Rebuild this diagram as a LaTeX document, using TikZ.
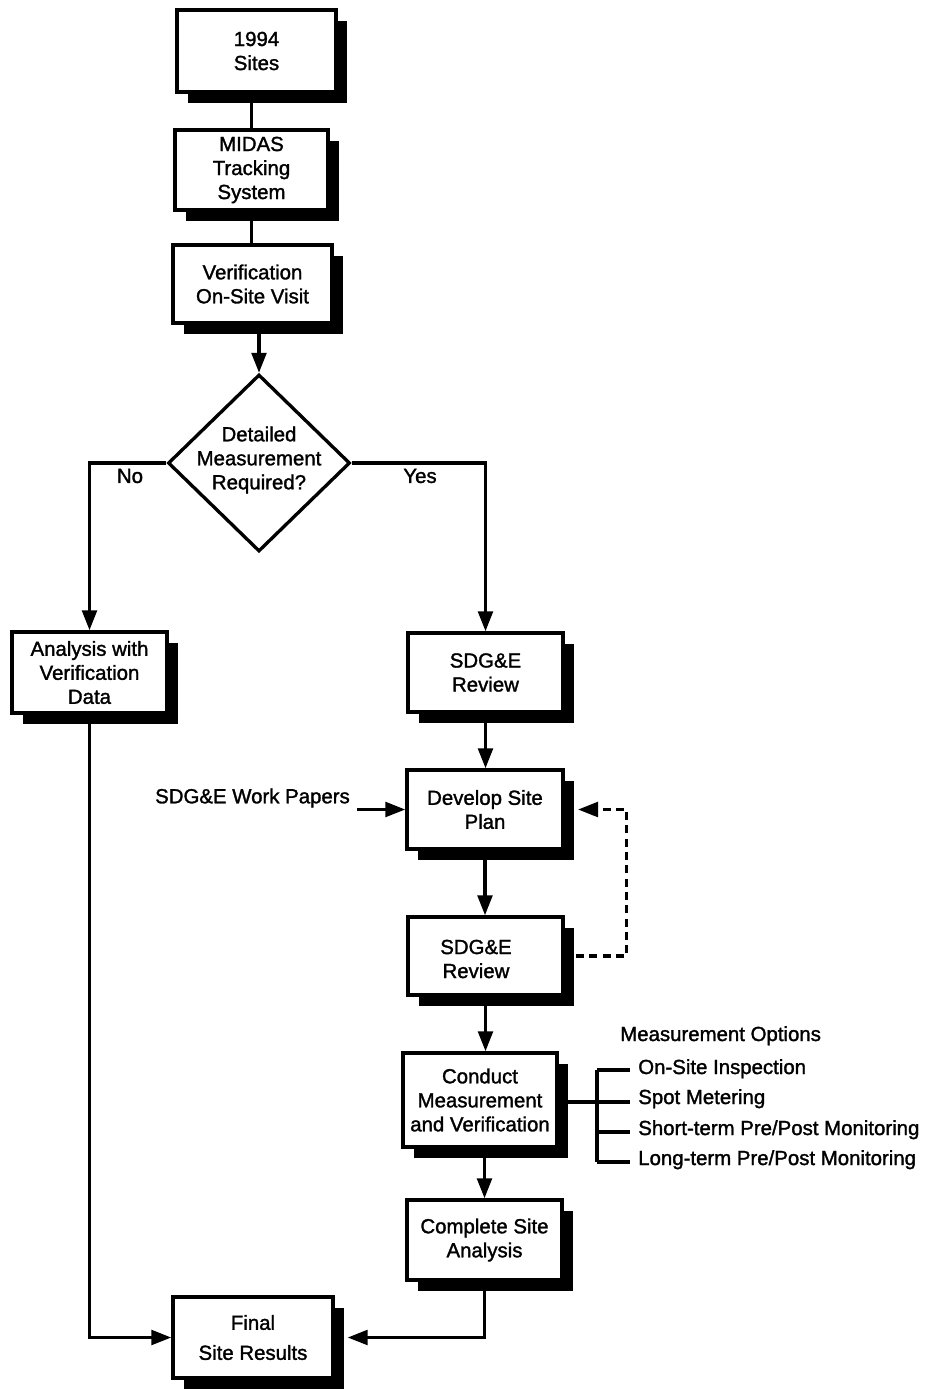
\documentclass[tikz,border=0pt]{standalone}
\usepackage{fontspec}
\setmainfont{Liberation Sans}[FakeBold=1.5]
\usetikzlibrary{arrows.meta,shapes.geometric,shadows}
\begin{document}
\begin{tikzpicture}[x=0.75pt,y=-0.75pt,
  every node/.style={font=\fontsize{15.3}{18}\selectfont},
  bx/.style={draw, line width=2.5pt, fill=white, inner sep=0pt, align=center,
    general shadow={fill=black, shadow xshift=8.5pt, shadow yshift=-8.5pt}},
  ln/.style={line width=2.5pt},
  tip/.style={-{Triangle[length=15pt,width=11pt]}},
  ar/.style={ln, tip},
  txt/.style={inner sep=0pt, align=center}]
\useasboundingbox (0,0) rectangle (928,1389);

% boxes
\node[bx, minimum width=119.25pt, minimum height=61.5pt] (sites) at (256.5,51) {1994\\Sites};
\node[bx, minimum width=114.75pt, minimum height=60pt] (midas) at (251.5,170) {MIDAS\\Tracking\\System};
\node[bx, minimum width=119.25pt, minimum height=58.5pt] (verif) at (252.5,284) {Verification\\On-Site Visit};
\node[draw, diamond, line width=2.5pt, minimum width=136.5pt, minimum height=132.75pt, inner sep=0pt] (dia) at (259,463) {};
\node[txt] (diat) at (259,460) {Detailed\\Measurement\\Required?};
\node[bx, minimum width=116.25pt, minimum height=60.75pt] (ana) at (89.5,672.5) {Analysis with\\Verification\\Data};
\node[bx, minimum width=116.25pt, minimum height=59.25pt] (rev1) at (485.5,672.5) {SDG\&E\\Review};
\node[bx, minimum width=117pt, minimum height=59.25pt] (plan) at (485,809.5) {Develop Site\\Plan};
\node[bx, minimum width=116.25pt, minimum height=58.5pt] (rev2) at (485.5,956) {};
\node[txt] (rev2t) at (476,959) {SDG\&E\\Review};
\node[bx, minimum width=115.5pt, minimum height=70.5pt] (cond) at (480,1100) {Conduct\\Measurement\\and Verification};
\node[bx, minimum width=116.25pt, minimum height=60pt] (comp) at (484.5,1240) {Complete Site\\Analysis};
\node[bx, minimum width=120pt, minimum height=60.75pt] (final) at (253,1337.5) {Final\\[4.5pt]Site Results};

% labels
\node[txt] (no) at (130,476) {No};
\node[txt] (yes) at (420,476) {Yes};
\node[txt] (wp) at (252.5,798) {SDG\&E Work Papers};
\node[txt, anchor=base west] (mo) at (620,1041) {Measurement Options};
\node[txt, anchor=base west] (o1) at (638,1074) {On-Site Inspection};
\node[txt, anchor=base west] (o2) at (638,1104) {Spot Metering};
\node[txt, anchor=base west] (o3) at (638,1135) {Short-term Pre/Post Monitoring};
\node[txt, anchor=base west] (o4) at (638,1165) {Long-term Pre/Post Monitoring};

% connectors
\draw[ln] (midas.north |- sites.south) -- (midas.north);
\draw[ln] (midas.south) -- (midas.south |- verif.north);
\draw[ar] (dia.north |- verif.south) -- (dia.north);
\draw[ar] (dia.west) -| (ana.north);
\draw[ar] (dia.east) -| (rev1.north);
\draw[ar] (rev1.south) -- (rev1.south |- plan.north);
\draw[ar] ([xshift=5.25pt]wp.east |- plan.west) -- (plan.west);
\draw[ar] (plan.south) -- (plan.south |- rev2.north);
\draw[ln, dash pattern=on 6pt off 4pt, tip]
  ([xshift=8.5pt]rev2.east) -| ([xshift=46.5pt]plan.east) -- ([xshift=10pt]plan.east);
\draw[ar] (rev2.south) -- (rev2.south |- cond.north);
\draw[ar] (comp.north |- cond.south) -- (comp.north);
\draw[ar] (ana.south) |- (final.west);
\draw[ar] (comp.south) |- ([xshift=9.75pt]final.east);

% measurement options bracket
\coordinate (bt) at (597,1070);
\coordinate (bm) at (597,1102);
\coordinate (bs) at (597,1132);
\coordinate (bb) at (597,1162);
\draw[ln] (bt) -- (bb);
\draw[ln] (cond.east |- bm) -- (bm);
\draw[ln] (bt) -- ([xshift=-6pt]o1.west |- bt);
\draw[ln] (bm) -- ([xshift=-6pt]o2.west |- bm);
\draw[ln] (bs) -- ([xshift=-6pt]o3.west |- bs);
\draw[ln] (bb) -- ([xshift=-6pt]o4.west |- bb);
\end{tikzpicture}
\end{document}
